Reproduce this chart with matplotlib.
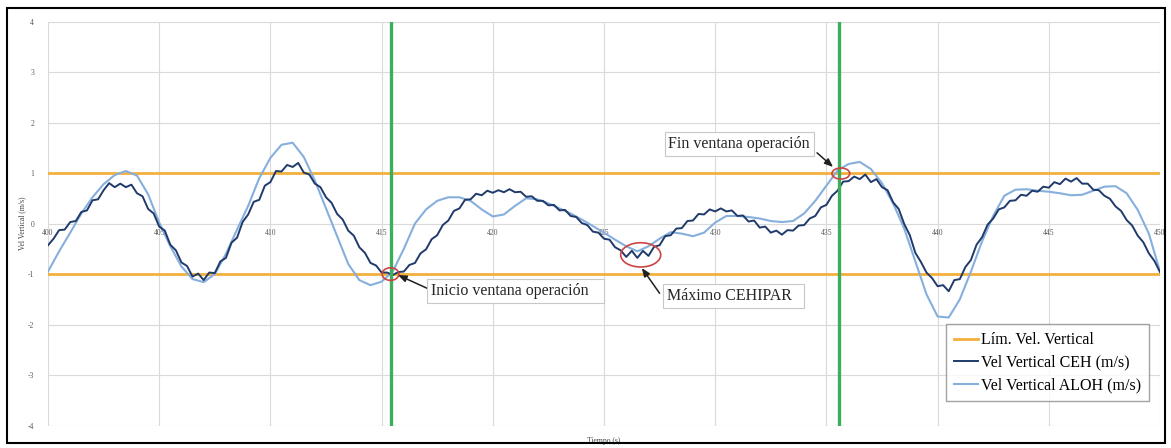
import numpy as np
import matplotlib
matplotlib.use("Agg")
import matplotlib.pyplot as plt
from matplotlib.patches import Ellipse, Rectangle

plt.rcParams["axes.unicode_minus"] = False

# sample times (s)
t_ceh = np.arange(400, 450.001, 0.25)
t_aloh = np.arange(400, 450.001, 0.5)

# vertical speed CEH (m/s), every 0.25 s
vel_ceh = [
    -0.43, -0.30, -0.13, -0.12, 0.03, 0.05, 0.23, 0.26, 0.46, 0.48, 0.66, 0.80, 0.72, 0.79, 0.72, 0.77, 0.60, 0.54, 0.29, 0.20,
    -0.06, -0.14, -0.42, -0.53, -0.77, -0.84, -1.05, -0.99, -1.12, -0.97, -0.98, -0.75, -0.68, -0.38, -0.28, 0.03, 0.18, 0.43, 0.47, 0.75,
    0.82, 1.04, 1.03, 1.16, 1.12, 1.20, 1.01, 0.97, 0.79, 0.72, 0.52, 0.41, 0.19, 0.08, -0.14, -0.24, -0.47, -0.58, -0.78, -0.83,
    -0.97, -0.97, -1.02, -0.96, -0.95, -0.82, -0.78, -0.59, -0.51, -0.31, -0.23, -0.03, 0.06, 0.25, 0.30, 0.47, 0.48, 0.59, 0.56, 0.65,
    0.61, 0.66, 0.62, 0.68, 0.62, 0.63, 0.53, 0.54, 0.45, 0.45, 0.36, 0.37, 0.26, 0.27, 0.15, 0.13, 0.01, -0.03, -0.16, -0.18,
    -0.30, -0.32, -0.47, -0.53, -0.66, -0.54, -0.68, -0.54, -0.64, -0.46, -0.43, -0.25, -0.23, -0.10, -0.09, 0.05, 0.06, 0.19, 0.18, 0.28,
    0.24, 0.30, 0.24, 0.26, 0.15, 0.16, 0.04, 0.06, -0.08, -0.06, -0.18, -0.14, -0.22, -0.13, -0.14, -0.04, -0.03, 0.10, 0.15, 0.32,
    0.37, 0.55, 0.65, 0.83, 0.84, 0.93, 0.88, 0.97, 0.82, 0.88, 0.72, 0.66, 0.42, 0.29, -0.01, -0.23, -0.58, -0.76, -0.97, -1.08,
    -1.24, -1.22, -1.34, -1.12, -1.10, -0.86, -0.72, -0.42, -0.27, -0.02, 0.10, 0.28, 0.32, 0.45, 0.46, 0.57, 0.55, 0.65, 0.63, 0.73,
    0.71, 0.82, 0.78, 0.89, 0.83, 0.90, 0.79, 0.79, 0.67, 0.66, 0.55, 0.49, 0.34, 0.25, 0.07, -0.04, -0.24, -0.37, -0.59, -0.74,
    -0.96,
]

# vertical speed ALOH (m/s), every 0.5 s
vel_aloh = [
    -0.95, -0.55, -0.18, 0.20, 0.52, 0.78, 0.96, 1.04, 0.95, 0.58,
    0.02, -0.45, -0.85, -1.10, -1.16, -1.00, -0.60, -0.12, 0.35, 0.90,
    1.30, 1.56, 1.60, 1.32, 0.85, 0.30, -0.25, -0.80, -1.12, -1.22,
    -1.15, -0.95, -0.50, 0.00, 0.28, 0.45, 0.52, 0.52, 0.45, 0.28,
    0.14, 0.18, 0.35, 0.50, 0.48, 0.40, 0.30, 0.20, 0.08, -0.05,
    -0.18, -0.32, -0.45, -0.55, -0.45, -0.30, -0.17, -0.20, -0.25, -0.18,
    0.02, 0.15, 0.15, 0.13, 0.10, 0.05, 0.03, 0.05, 0.20, 0.45,
    0.75, 1.05, 1.18, 1.22, 1.08, 0.80, 0.40, -0.10, -0.75, -1.40,
    -1.84, -1.86, -1.50, -0.95, -0.35, 0.15, 0.55, 0.67, 0.68, 0.65,
    0.63, 0.60, 0.56, 0.57, 0.65, 0.73, 0.74, 0.60, 0.27, -0.20,
    -0.95,
]

limits = [1, -1]
window_edges = [415.4, 435.55]
x_ticks = [400, 405, 410, 415, 420, 425, 430, 435, 440, 445, 450]
y_ticks = [-4, -3, -2, -1, 0, 1, 2, 3, 4]

SERIF = "Liberation Serif"


def main():
    fig = plt.figure(figsize=(11.71, 4.48), dpi=100)
    ax = fig.add_axes([0.041, 0.05, 0.9496, 0.902])
    draw_series(ax)
    style_axes(ax)
    add_notes(ax)
    add_legend(ax)

    # chart border
    fig.patches.append(Rectangle((7 / 1171, 0.011), 1158 / 1171, 0.971,
                                 transform=fig.transFigure, fill=False,
                                 edgecolor="black", linewidth=1.5))
    fig.savefig("out.png", dpi=100)


def draw_series(ax):
    for i, v in enumerate(limits):
        ax.axhline(v, color="#f4b03c", linewidth=2.0, zorder=2,
                   label="Lím. Vel. Vertical" if i == 0 else None)
    ax.plot(t_aloh, vel_aloh, color="#86afdd", linewidth=1.5, zorder=3,
            label="Vel Vertical ALOH (m/s)")
    ax.plot(t_ceh, vel_ceh, color="#1f3a6b", linewidth=1.4, zorder=4,
            label="Vel Vertical CEH (m/s)")
    for x in window_edges:
        ax.axvline(x, color="#3dad5e", linewidth=2.4, zorder=5)


def style_axes(ax):
    ax.set_xlim(400, 450)
    ax.set_ylim(-4, 4)
    ax.set_xticks(x_ticks)
    ax.set_yticks(y_ticks)
    ax.grid(True, color="#dadada", linewidth=0.8)
    ax.set_axisbelow(True)
    for s in ax.spines.values():
        s.set_visible(False)
    ax.spines["bottom"].set_position(("data", 0))
    ax.tick_params(axis="both", length=0, labelsize=5.5, labelcolor="#595959")
    ax.tick_params(axis="x", pad=4)
    ax.tick_params(axis="y", pad=10)
    for lab in ax.get_xticklabels() + ax.get_yticklabels():
        lab.set_fontfamily(SERIF)
    ax.set_xlabel("Tiempo (s)", fontsize=5.5, family=SERIF, color="#404040")
    ax.set_ylabel("Vel Vertical (m/s)", fontsize=5.5, family=SERIF, color="#404040")
    ax.xaxis.set_label_coords(0.5, -0.028)
    ax.yaxis.set_label_coords(-0.02, 0.5)


def add_notes(ax):
    box = dict(boxstyle="square,pad=0.25", facecolor="white",
               edgecolor="#c8c8c8", linewidth=0.8)
    arrow = dict(arrowstyle="-|>,head_length=0.5,head_width=0.2",
                 color="#202020", linewidth=1.1, shrinkA=0, shrinkB=0)

    ax.add_patch(Ellipse((415.4, -1.0), 0.75, 0.25, fill=False,
                         edgecolor="#cc4444", linewidth=1.2, zorder=6))
    ax.add_patch(Ellipse((426.65, -0.62), 1.8, 0.48, fill=False,
                         edgecolor="#cc4444", linewidth=1.2, zorder=6))
    ax.add_patch(Ellipse((435.65, 0.99), 0.8, 0.22, fill=False,
                         edgecolor="#cc4444", linewidth=1.2, zorder=6))

    ax.annotate("", xy=(415.74, -1.02), xytext=(417.04, -1.28),
                arrowprops=arrow, zorder=7)
    ax.annotate("", xy=(426.7, -0.88), xytext=(427.5, -1.38),
                arrowprops=arrow, zorder=7)
    ax.annotate("", xy=(435.3, 1.12), xytext=(434.58, 1.40),
                arrowprops=arrow, zorder=7)

    ax.text(417.2, -1.34, "Inicio ventana operación   ", fontsize=11.5,
            family=SERIF, color="#262626", va="center", bbox=box, zorder=7)
    ax.text(427.85, -1.44, "Máximo CEHIPAR  ", fontsize=11.5,
            family=SERIF, color="#262626", va="center", bbox=box, zorder=7)
    ax.text(427.9, 1.57, "Fin ventana operación", fontsize=11.5,
            family=SERIF, color="#262626", va="center", bbox=box, zorder=7)


def add_legend(ax):
    handles, labels = ax.get_legend_handles_labels()
    order = ["Lím. Vel. Vertical", "Vel Vertical CEH (m/s)", "Vel Vertical ALOH (m/s)"]
    hs = [handles[labels.index(o)] for o in order]
    leg = ax.legend(hs, order, loc="upper left", bbox_to_anchor=(0.8076, 0.2506),
                    borderaxespad=0, frameon=True, fancybox=False,
                    prop={"family": SERIF, "size": 11.5}, handlelength=1.5,
                    handletextpad=0.2, labelspacing=0.4, borderpad=0.5)
    leg.get_frame().set_edgecolor("#8c8c8c")
    leg.get_frame().set_linewidth(1.0)
    leg.set_zorder(8)


if __name__ == "__main__":
    main()
